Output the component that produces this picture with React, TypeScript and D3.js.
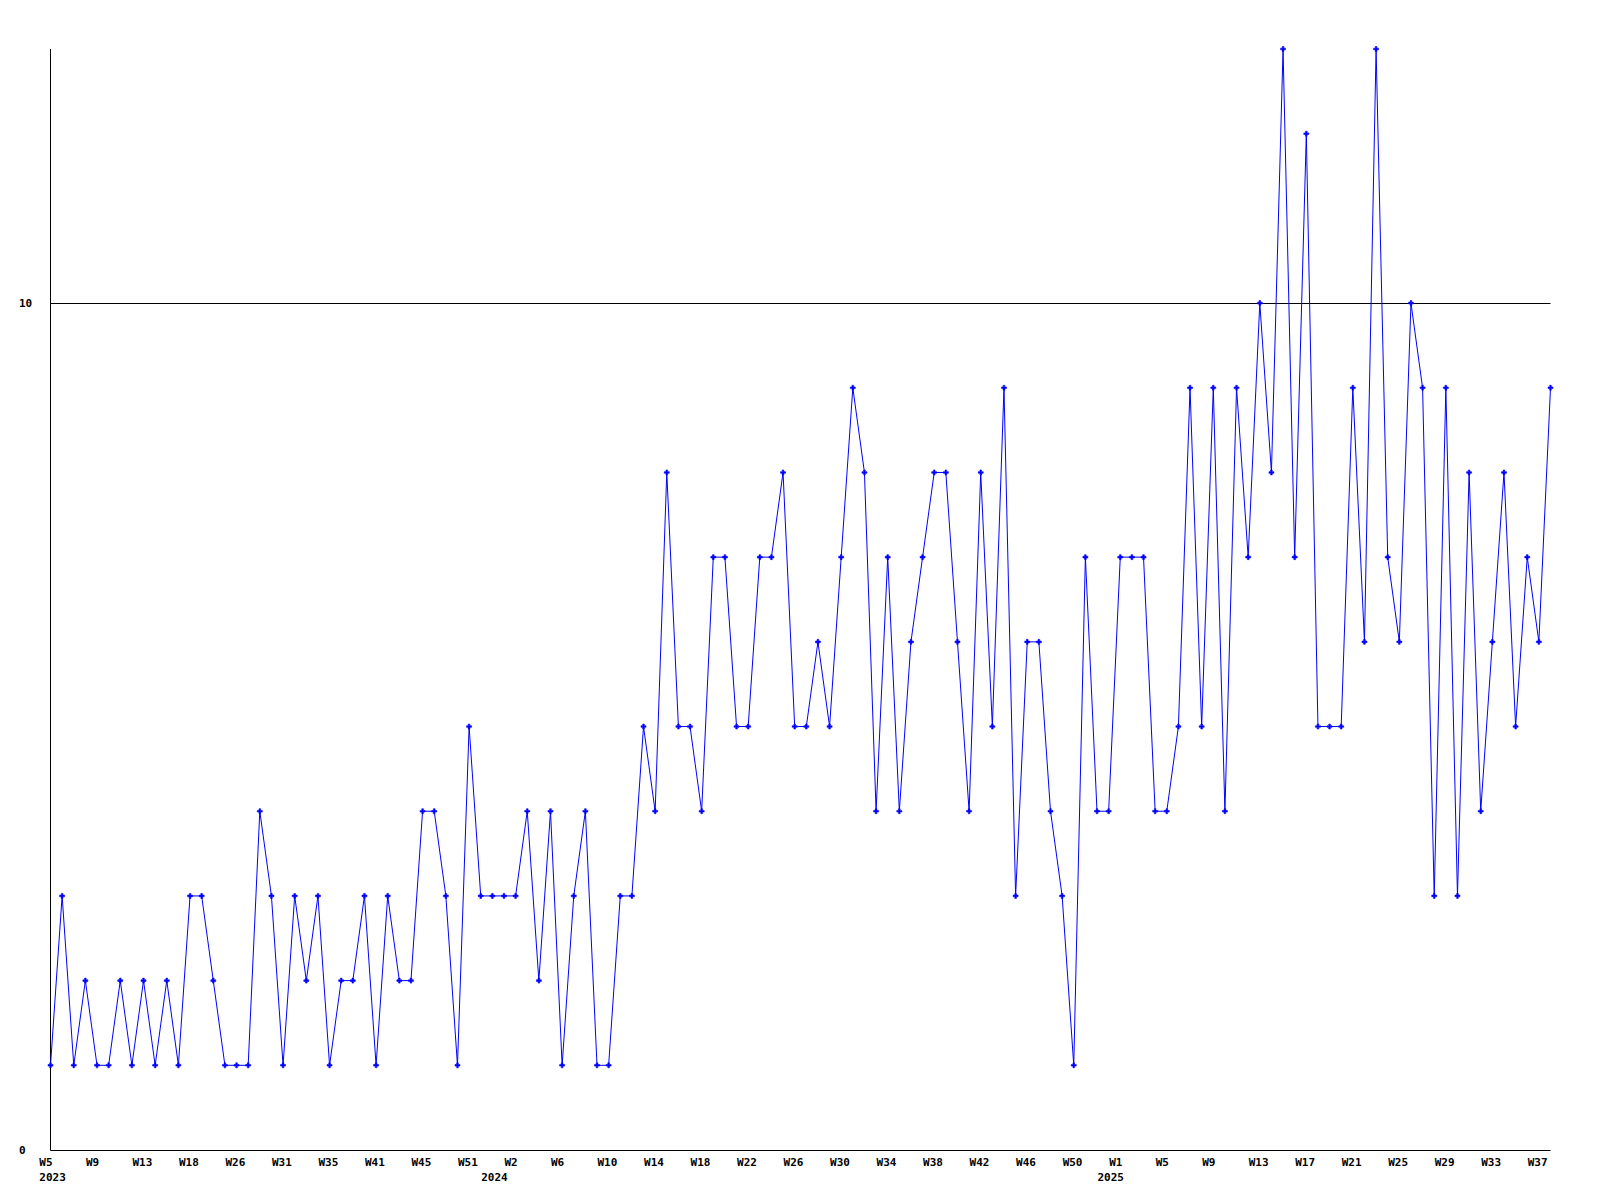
import React from "react";
import * as d3 from "d3";

const values: number[] = [
  1, 3, 1, 2, 1, 1, 2, 1, 2, 1,
  2, 1, 3, 3, 2, 1, 1, 1, 4, 3,
  1, 3, 2, 3, 1, 2, 2, 3, 1, 3,
  2, 2, 4, 4, 3, 1, 5, 3, 3, 3,
  3, 4, 2, 4, 1, 3, 4, 1, 1, 3,
  3, 5, 4, 8, 5, 5, 4, 7, 7, 5,
  5, 7, 7, 8, 5, 5, 6, 5, 7, 9,
  8, 4, 7, 4, 6, 7, 8, 8, 6, 4,
  8, 5, 9, 3, 6, 6, 4, 3, 1, 7,
  4, 4, 7, 7, 7, 4, 4, 5, 9, 5,
  9, 4, 9, 7, 10, 8, 13, 7, 12, 5,
  5, 5, 9, 6, 13, 7, 6, 10, 9, 3,
  9, 3, 8, 4, 6, 8, 5, 7, 6, 9,
];

const weekLabels: string[] = [
  "W5", "W9", "W13", "W18", "W26", "W31", "W35", "W41", "W45", "W51",
  "W2", "W6", "W10", "W14", "W18", "W22", "W26", "W30", "W34", "W38", "W42", "W46", "W50",
  "W1", "W5", "W9", "W13", "W17", "W21", "W25", "W29", "W33", "W37",
];
const labelStep = 4;

const yearLabels: string[] = ["2023", "2024", "2025"];
const yearStartIndex: number[] = [0, 38, 91];

const yTicks: number[] = [0, 10];
const yMax = 13;

export default function App() {
  const left = 50.5;
  const right = 1550.5;
  const top = 49;
  const bottom = 1150;
  const x = d3.scaleLinear().domain([0, values.length - 1]).range([left, right]);
  const y = d3.scaleLinear().domain([0, yMax]).range([bottom, top]);
  const line = d3
    .line<number>()
    .x((_, i) => x(i))
    .y((d) => y(d));
  const step = x(1) - x(0);
  const font = "'DejaVu Sans Mono', monospace";
  return (
    <svg
      width={1600}
      height={1200}
      style={{ position: "absolute", left: 0, top: 0, background: "#fff" }}
    >
      <rect x={0} y={0} width={1600} height={1200} fill="#fff" />
      {yTicks
        .filter((t) => t !== 0)
        .map((t) => (
          <line
            key={"g" + t}
            x1={left}
            x2={right}
            y1={Math.round(y(t)) + 0.5}
            y2={Math.round(y(t)) + 0.5}
            stroke="#000"
            strokeWidth={1}
          />
        ))}
      <line x1={left} x2={left} y1={top} y2={bottom + 0.5} stroke="#000" strokeWidth={1} />
      <line x1={left} x2={right} y1={bottom + 0.5} y2={bottom + 0.5} stroke="#000" strokeWidth={1} />
      {yTicks.map((t) => (
        <text
          key={"y" + t}
          x={19}
          y={y(t) + 4}
          fontFamily={font}
          fontWeight="bold"
          fontSize={11}
          fill="#000"
        >
          {t}
        </text>
      ))}
      {weekLabels.map((w, k) => (
        <text
          key={"w" + k}
          x={x(k * labelStep) - step + 0.5}
          y={1166}
          fontFamily={font}
          fontWeight="bold"
          fontSize={11}
          fill="#000"
        >
          {w}
        </text>
      ))}
      {yearLabels.map((yr, k) => (
        <text
          key={"yr" + k}
          x={x(yearStartIndex[k]) - step + 0.5}
          y={1181}
          fontFamily={font}
          fontWeight="bold"
          fontSize={11}
          fill="#000"
        >
          {yr}
        </text>
      ))}
      <path d={line(values) || ""} fill="none" stroke="#0000ff" strokeWidth={1} />
      {values.map((v, i) => (
        <path
          key={"m" + i}
          transform={`translate(${x(i)},${y(v)})`}
          d="M-2.5,-0.8H-0.8V-2.5H0.8V-0.8H2.5V0.8H0.8V2.5H-0.8V0.8H-2.5Z"
          fill="#0000ff"
          stroke="#0000ff"
          strokeWidth={0.6}
        />
      ))}
    </svg>
  );
}
